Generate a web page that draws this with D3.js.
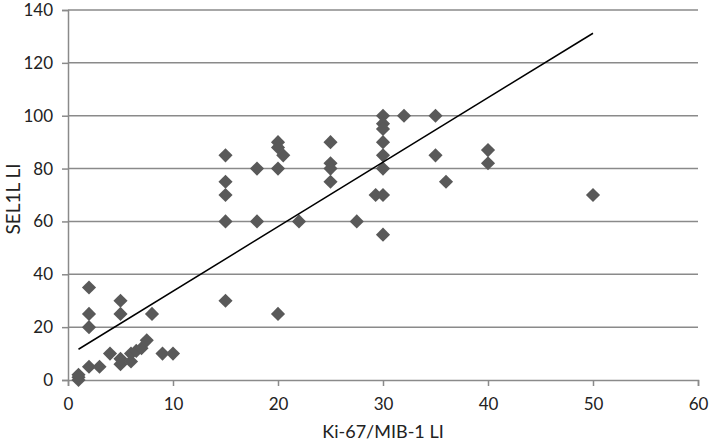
<!DOCTYPE html>
<html>
<head>
<meta charset="utf-8">
<script src="https://d3js.org/d3.v7.min.js"></script>
<style>
  body { margin: 0; background: #fff; }
  text { font-family: Lato, "Open Sans", sans-serif; fill: #222; }
</style>
</head>
<body>
<div id="chart"></div>
<script>
// Ki-67/MIB-1 LI (x) vs SEL1L LI (y)
const ki67 = [1, 1, 1, 2, 3, 4, 5, 5, 6, 6, 6.5, 7, 7.5, 9, 10, 2, 2, 2, 5, 5, 8,
  15, 15, 15, 15, 15, 18, 18, 20, 20, 20.5, 20, 20, 22, 25, 25, 25, 25,
  30, 32, 35, 30, 30, 30, 30, 30, 35, 40, 40, 36, 29.3, 30, 27.5, 30, 50];
const sel1l = [0, 1, 2, 5, 5, 10, 6, 8, 7, 10, 11, 12, 15, 10, 10, 20, 25, 35, 25, 30, 25,
  85, 75, 70, 60, 30, 80, 60, 90, 88, 85, 80, 25, 60, 90, 82, 80, 75,
  100, 100, 100, 97, 95, 90, 85, 80, 85, 87, 82, 75, 70, 70, 60, 55, 70];
const xTicks = [0, 10, 20, 30, 40, 50, 60];
const yTicks = [0, 20, 40, 60, 80, 100, 120, 140];
// linear trendline
const trendIntercept = 9.2;
const trendSlope = 2.44;

const width = 709, height = 443;
const margin = { left: 68, right: 11, top: 10, bottom: 63 };

const svg = d3.select("#chart").append("svg")
  .attr("width", width).attr("height", height);

const x = d3.scaleLinear().domain([0, 60]).range([margin.left, width - margin.right]);
const y = d3.scaleLinear().domain([0, 140]).range([height - margin.bottom, margin.top]);

// horizontal gridlines
svg.append("g").selectAll("line")
  .data(yTicks.slice(1))
  .join("line")
    .attr("x1", x(0)).attr("x2", x(60))
    .attr("y1", d => y(d)).attr("y2", d => y(d))
    .attr("stroke", "#8a8a8a").attr("stroke-width", 1.5);

// y axis
const yAxis = svg.append("g")
  .attr("transform", `translate(${x(0)},0)`)
  .call(d3.axisLeft(y).tickValues(yTicks).tickSize(6).tickPadding(9));
yAxis.select(".domain").attr("stroke", "#8a8a8a").attr("stroke-width", 1.5);
yAxis.selectAll(".tick line").attr("stroke", "#8a8a8a").attr("stroke-width", 1.5);
yAxis.selectAll("text").style("font-size", "17px").attr("fill", "#222");

// x axis
const xAxis = svg.append("g")
  .attr("transform", `translate(0,${y(0)})`)
  .call(d3.axisBottom(x).tickValues(xTicks).tickSize(6).tickPadding(12));
xAxis.select(".domain").attr("stroke", "#8a8a8a").attr("stroke-width", 1.5);
xAxis.selectAll(".tick line").attr("stroke", "#8a8a8a").attr("stroke-width", 1.5);
xAxis.selectAll("text").style("font-size", "17px").attr("fill", "#222");

// points
const pts = ki67.map((v, i) => ({ x: v, y: sel1l[i] }));
const diamond = d3.symbol().type(d3.symbolSquare).size(100);
svg.append("g").selectAll("path")
  .data(pts)
  .join("path")
    .attr("d", diamond)
    .attr("transform", d => `translate(${x(d.x)},${y(d.y)}) rotate(45)`)
    .attr("fill", "#595959");

// trendline over the data's x range
const xr = d3.extent(pts, d => d.x);
svg.append("line")
  .attr("x1", x(xr[0])).attr("y1", y(trendIntercept + trendSlope * xr[0]))
  .attr("x2", x(xr[1])).attr("y2", y(trendIntercept + trendSlope * xr[1]))
  .attr("stroke", "#000").attr("stroke-width", 1.5);

// axis titles
svg.append("text")
  .attr("x", (x(0) + x(60)) / 2).attr("y", 438)
  .attr("text-anchor", "middle").style("font-size", "18px")
  .text("Ki-67/MIB-1 LI");
svg.append("text")
  .attr("transform", `translate(20,199) rotate(-90)`)
  .attr("text-anchor", "middle").style("font-size", "19px")
  .text("SEL1L LI");
</script>
</body>
</html>
